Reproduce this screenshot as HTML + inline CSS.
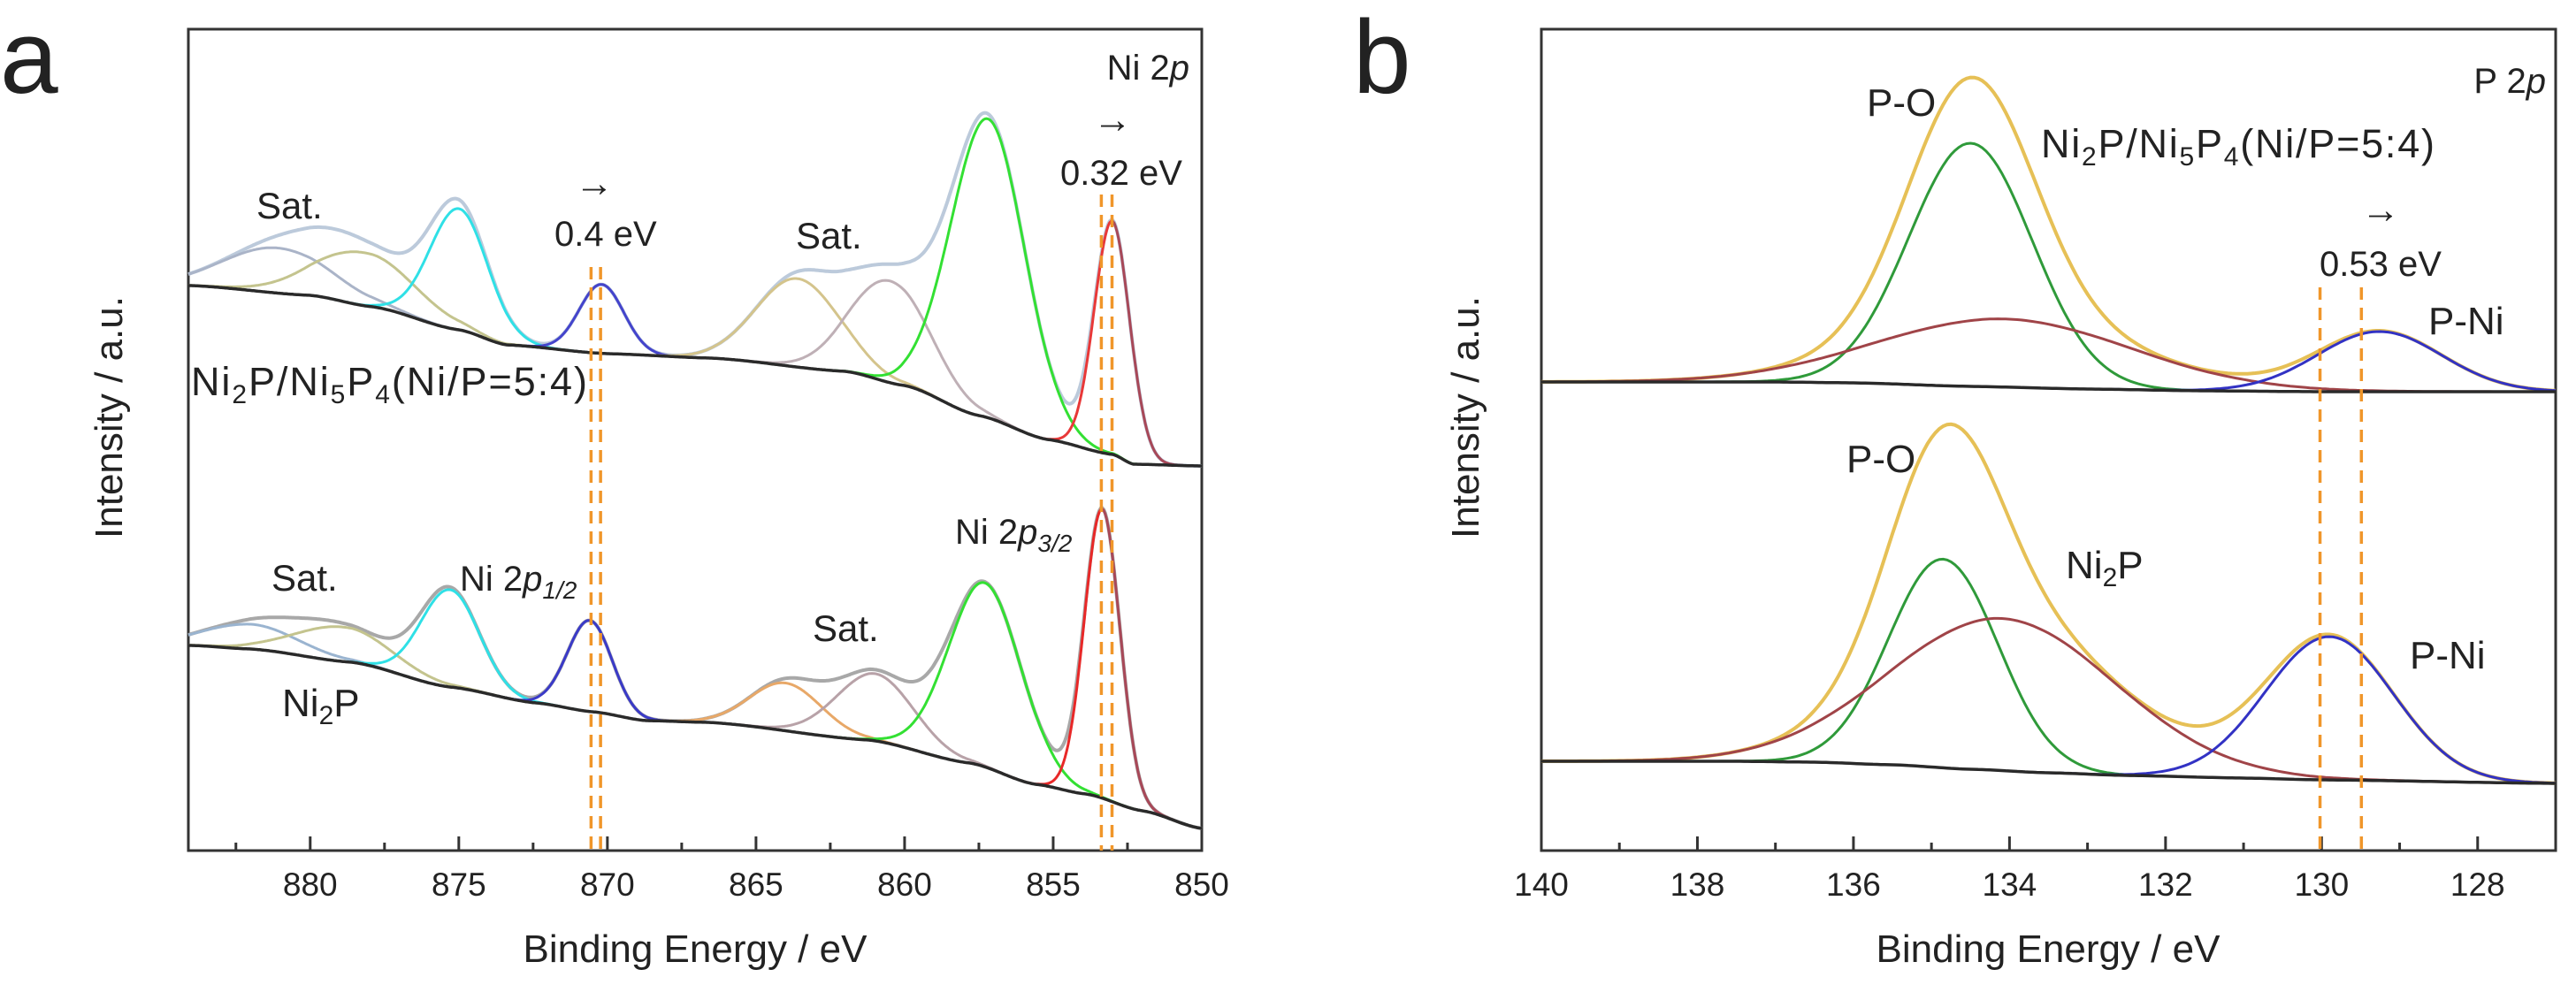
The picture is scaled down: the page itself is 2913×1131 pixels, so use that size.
<!DOCTYPE html>
<html><head><meta charset="utf-8">
<style>
html,body{margin:0;padding:0;background:#fff;}
svg{display:block;font-family:"Liberation Sans",Arial,sans-serif;}
</style></head>
<body>
<svg id="fig" width="2913" height="1131" viewBox="0 0 2913 1131" xmlns="http://www.w3.org/2000/svg">
  <g id="panelA"></g>
  <g id="panelB"></g>
</svg>
<script>
// ---------- Panel a data (Ni 2p) ----------
const aTicks = [880, 875, 870, 865, 860, 855, 850];
const aTopBgE = [884, 880, 877.9, 875, 873.4, 870, 866.5, 862, 860, 857.5, 855.2, 853, 852.3, 850];
const aTopBgI = [639, 628, 615, 589, 572, 562, 557, 542, 526, 492, 465, 448, 437, 435];
const aTopCenters = [881.1, 878.2, 875.0, 870.2, 863.6, 860.5, 857.2, 853.02];
const aTopHeights = [51, 60, 137, 78, 100, 115, 338, 264];
const aTopSigmas = [1.8, 1.7, 0.98, 0.75, 1.4, 1.35, 1.25, 0.6];
const aBotBgE = [884, 882, 878.6, 875.3, 872.4, 870.5, 868.7, 866.6, 861.2, 857.8, 855.6, 853.9, 852, 850];
const aBotBgI = [232, 228, 213, 185, 167, 157, 147, 145, 125, 99, 75, 64, 45, 25];
const aBotCenters = [882.0, 878.9, 875.3, 870.6, 864.0, 861.0, 857.3, 853.35];
const aBotHeights = [28, 39, 110, 103, 54, 76, 208, 327];
const aBotSigmas = [1.6, 1.6, 0.98, 0.75, 1.2, 1.3, 1.23, 0.6];
const aTopColors = ["#aab4c8", "#c4c48e", "#2fe0e6", "#4444cc", "#d4c48c", "#bfb0b6", "#33e033", "#e83838"];
const aBotColors = ["#9ab4d0", "#c4c48e", "#2fe0e6", "#3a3ac8", "#e8a868", "#b8a2a8", "#33e033", "#e82828"];
const aShiftLow = [870.55, 853.38];
const aShiftHigh = [870.23, 853.02];

// ---------- Panel b data (P 2p) ----------
const bTicks = [140, 138, 136, 134, 132, 130, 128];
const bTopBgE = [140, 137, 136, 134.5, 133, 131.5, 130, 127];
const bTopBgI = [530, 530, 529, 525, 522, 520, 519, 519];
const bTopCenters = [134.5, 134.07, 129.26];
const bTopHeights = [275, 77, 68];
const bTopSigmas = [0.79, 1.63, 0.8];
const bBotBgE = [140, 137.5, 136.5, 135.5, 134.5, 133.5, 132.5, 131, 130, 127];
const bBotBgI = [101, 101, 100, 97, 92, 88, 85, 82, 80, 76];
const bBotCenters = [134.85, 134.1, 129.9];
const bBotHeights = [236, 172, 162];
const bBotSigmas = [0.7, 1.45, 0.82];
const bColors = ["#2f9a3a", "#a04448", "#3232c4"];
const bShiftLow = [130.02];
const bShiftHigh = [129.49];

const NS = "http://www.w3.org/2000/svg";
function mk(tag, attrs, parent) {
  const e = document.createElementNS(NS, tag);
  for (const k in attrs) e.setAttribute(k, attrs[k]);
  parent.appendChild(e);
  return e;
}
function interp(E, xs, ys) {
  for (let i = 0; i < xs.length - 1; i++) {
    const a = xs[i], b = xs[i + 1];
    if ((E <= a && E >= b)) {
      const t = (a - E) / (a - b);
      const s = t * t * (3 - 2 * t);
      const u = 0.5 * t + 0.5 * s;
      return ys[i] + (ys[i + 1] - ys[i]) * u;
    }
  }
  return E > xs[0] ? ys[0] : ys[ys.length - 1];
}
function gauss(E, c, h, s) { return h * Math.exp(-0.5 * ((E - c) / s) * ((E - c) / s)); }

function panel(cfg) {
  const g = cfg.g;
  const X = E => cfg.x0 + (cfg.e0 - E) / (cfg.e0 - cfg.e1) * (cfg.x1 - cfg.x0);
  const Y = I => cfg.yb - I;
  const frame = mk("rect", {x: cfg.x0, y: cfg.yt, width: cfg.x1 - cfg.x0, height: cfg.yb - cfg.yt, fill: "none", stroke: "#333", "stroke-width": 3}, g);
  
  
  const step = cfg.minor;
  for (let E = cfg.ticks[0] + step * 2; E >= cfg.e1 - 1e-6; E -= step) {
    if (E > cfg.e0) continue;
    const major = cfg.ticks.some(t => Math.abs(t - E) < 1e-6);
    const tk = mk("line", {x1: X(E), x2: X(E), y1: cfg.yb, y2: cfg.yb - (major ? 16 : 9), stroke: "#333", "stroke-width": 3}, g);
    
    
  }
  cfg.ticks.forEach(t => {
    const tl = mk("text", {x: X(t), y: 1013, "font-size": 37, "text-anchor": "middle", fill: "#222"}, g);
    tl.textContent = t;
    
    
  });
  cfg.spectra.forEach((sp, si) => {
    const pts = [];
    for (let E = cfg.e0; E >= cfg.e1 - 1e-6; E -= 0.05) pts.push(E);
    const bg = E => interp(E, sp.bgE, sp.bgI);
    const env = pts.map(E => {
      let s = bg(E);
      sp.centers.forEach((c, i) => s += gauss(E, c, sp.heights[i], sp.sigmas[i]));
      return X(E).toFixed(1) + "," + Y(s).toFixed(1);
    });
    const ep = mk("polyline", {points: env.join(" "), fill: "none", stroke: sp.envColor, "stroke-width": 4}, g);
    
    
    sp.centers.forEach((c, i) => {
      const sel = pts.filter(E => Math.abs(E - c) < 4.5 * sp.sigmas[i]);
      const toP = E => X(E).toFixed(1) + "," + Y(bg(E) + gauss(E, c, sp.heights[i], sp.sigmas[i])).toFixed(1);
      if (sp.splitLast && i === sp.centers.length - 1) {
        const left = sel.filter(E => E >= c - 0.05).map(toP);
        const right = sel.filter(E => E <= c + 0.05).map(toP);
        const c1 = mk("polyline", {points: left.join(" "), fill: "none", stroke: sp.colors[i], "stroke-width": 3}, g);
        
        
        const c2 = mk("polyline", {points: right.join(" "), fill: "none", stroke: "#a84858", "stroke-width": 3}, g);
        
        
      } else {
        const cp = mk("polyline", {points: sel.map(toP).join(" "), fill: "none", stroke: sp.colors[i], "stroke-width": 3}, g);
        
        
      }
    });
    const bp = mk("polyline", {points: pts.map(E => X(E).toFixed(1) + "," + Y(bg(E)).toFixed(1)).join(" "), fill: "none", stroke: "#2a2a2a", "stroke-width": 3.5}, g);
    
    
  });
  cfg.dashes.forEach(d => {
    const dl = mk("line", {x1: X(d.E), x2: X(d.E), y1: d.top, y2: cfg.yb, stroke: "#f0962a", "stroke-width": 3.5, "stroke-dasharray": "14,9"}, g);
    
    
  });
}

panel({
  g: document.getElementById("panelA"), x0: 213, x1: 1359, e0: 884.1, e1: 850, yt: 33, yb: 962,
  ticks: aTicks, minor: 2.5,
  spectra: [
    {bgE: aTopBgE, bgI: aTopBgI, centers: aTopCenters, heights: aTopHeights, sigmas: aTopSigmas, colors: aTopColors, envColor: "#bccadb", splitLast: true},
    {bgE: aBotBgE, bgI: aBotBgI, centers: aBotCenters, heights: aBotHeights, sigmas: aBotSigmas, colors: aBotColors, envColor: "#a8a8a8", splitLast: true}
  ],
  dashes: [
    {E: aShiftLow[0], top: 302}, {E: aShiftHigh[0], top: 302},
    {E: aShiftLow[1], top: 220}, {E: aShiftHigh[1], top: 220}
  ]
});
panel({
  g: document.getElementById("panelB"), x0: 1743, x1: 2890, e0: 140, e1: 127, yt: 33, yb: 962,
  ticks: bTicks, minor: 1,
  spectra: [
    {bgE: bTopBgE, bgI: bTopBgI, centers: bTopCenters, heights: bTopHeights, sigmas: bTopSigmas, colors: bColors, envColor: "#e6c056"},
    {bgE: bBotBgE, bgI: bBotBgI, centers: bBotCenters, heights: bBotHeights, sigmas: bBotSigmas, colors: bColors, envColor: "#e6c056"}
  ],
  dashes: [{E: bShiftLow[0], top: 325}, {E: bShiftHigh[0], top: 325}]
});
</script>
<script>
const fig = document.getElementById("fig");
const T = (x, y, size, html, name, anchor) => {
  const t = document.createElementNS("http://www.w3.org/2000/svg", "text");
  t.setAttribute("x", x); t.setAttribute("y", y); t.setAttribute("font-size", size);
  t.setAttribute("fill", "#222"); if (anchor) t.setAttribute("text-anchor", anchor);
  t.innerHTML = html;
  
  
  fig.appendChild(t);
  return t;
};
const sub = s => '<tspan font-size="30" dy="9">' + s + '</tspan><tspan dy="-9">';
T(0, 105, 118, 'a', 'panel-label-a');
T(1530, 105, 118, 'b', 'panel-label-b');
T(1345, 90, 40, 'Ni 2<tspan font-style="italic">p</tspan>', 'ni2p-title', 'end');
T(1258, 150, 44, '→', 'shift-arrow-ni2p32', 'middle');
T(1268, 209, 40, '0.32 eV', 'shift-label-032', 'middle');
T(672, 222, 44, '→', 'shift-arrow-ni2p12', 'middle');
T(627, 278, 40, '0.4 eV', 'shift-label-04');
T(290, 247, 42, 'Sat.', 'sat-label-top-left');
T(900, 281, 42, 'Sat.', 'sat-label-top-mid');
const la = T(216, 447, 45, 'Ni' + sub('2') + 'P/Ni' + sub('5') + 'P' + sub('4') + '(Ni/P=5:4)</tspan>', 'sample-label-ni2p-ni5p4-a');
la.setAttribute("textLength", 448);
T(307, 668, 42, 'Sat.', 'sat-label-bottom-left');
T(520, 668, 40, 'Ni 2<tspan font-style="italic">p</tspan><tspan font-size="28" font-style="italic" dy="9">1/2</tspan>', 'ni2p12-label');
T(919, 725, 42, 'Sat.', 'sat-label-bottom-mid');
T(1080, 615, 40, 'Ni 2<tspan font-style="italic">p</tspan><tspan font-size="28" font-style="italic" dy="9">3/2</tspan>', 'ni2p32-label');
T(319, 810, 44, 'Ni' + sub('2') + 'P</tspan>', 'sample-label-ni2p-a');
const ya = T(0, 0, 44, 'Intensity / a.u.', 'y-axis-title-a', 'middle');
ya.setAttribute("transform", "translate(138,472) rotate(-90)");
T(786, 1088, 44, 'Binding Energy / eV', 'x-axis-title-a', 'middle');
T(2879, 105, 40, 'P 2<tspan font-style="italic">p</tspan>', 'p2p-title', 'end');
T(2111, 131, 44, 'P-O', 'po-label-top');
const lb = T(2308, 178, 45, 'Ni' + sub('2') + 'P/Ni' + sub('5') + 'P' + sub('4') + '(Ni/P=5:4)</tspan>', 'sample-label-ni2p-ni5p4-b');
lb.setAttribute("textLength", 445);
T(2692, 252, 44, '→', 'shift-arrow-p2p', 'middle');
T(2692, 312, 40, '0.53 eV', 'shift-label-053', 'middle');
T(2746, 378, 44, 'P-Ni', 'pni-label-top');
T(2088, 534, 44, 'P-O', 'po-label-bottom');
T(2336, 654, 44, 'Ni' + sub('2') + 'P</tspan>', 'sample-label-ni2p-b');
T(2725, 756, 44, 'P-Ni', 'pni-label-bottom');
const yb = T(0, 0, 44, 'Intensity / a.u.', 'y-axis-title-b', 'middle');
yb.setAttribute("transform", "translate(1672,472) rotate(-90)");
T(2316, 1088, 44, 'Binding Energy / eV', 'x-axis-title-b', 'middle');
</script>
</body></html>
